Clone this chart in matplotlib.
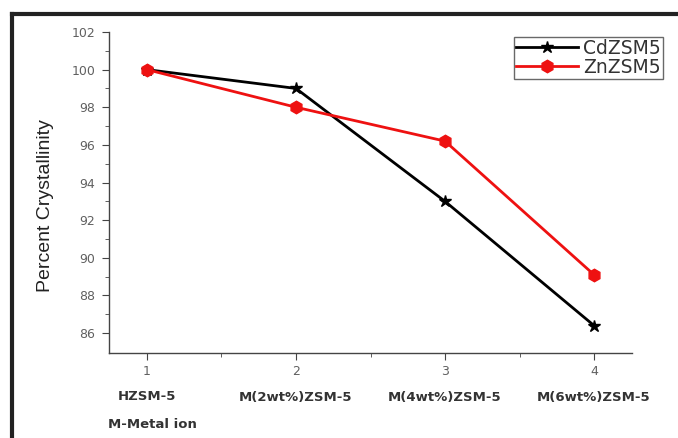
import matplotlib
matplotlib.use('Agg')
import matplotlib.pyplot as plt
from matplotlib.lines import Line2D

x = [1, 2, 3, 4]
cd_zsm5 = [100.0, 99.0, 93.0, 86.4]
zn_zsm5 = [100.0, 98.0, 96.2, 89.1]
categories = ['HZSM-5', 'M(2wt%)ZSM-5', 'M(4wt%)ZSM-5', 'M(6wt%)ZSM-5']

plt.rcParams['font.family'] = ['DejaVu Sans']

W, H = 678, 438
fig = plt.figure(figsize=(W / 100, H / 100), dpi=100)
ax = fig.add_axes([109 / W, 1 - 353 / H, (632 - 109) / W, (353 - 32) / H])

ax.plot(x, cd_zsm5, color='black', lw=2, marker='*', ms=9, label='CdZSM5')
ax.plot(x, zn_zsm5, color='#ee1111', lw=2, marker='h', ms=9, label='ZnZSM5')

ax.set_xlim(0.745, 4.255)
ax.set_ylim(84.94, 102)
ax.spines['top'].set_visible(False)
ax.spines['right'].set_visible(False)
for s in ('left', 'bottom'):
    ax.spines[s].set_color('#444444')
    ax.spines[s].set_linewidth(1)

ax.set_yticks(range(86, 103, 2))
ax.set_yticks(range(87, 102, 2), minor=True)
ax.set_xticks(x)
ax.set_xticks([1.5, 2.5, 3.5], minor=True)
ax.tick_params(which='major', direction='out', length=5, color='#444444',
               labelsize=9, labelcolor='#606060')
ax.tick_params(which='minor', direction='out', length=3, color='#444444')
ax.tick_params(axis='y', pad=5)

ax.set_ylabel('Percent Crystallinity', fontsize=14, family='Liberation Sans',
              color='#222222')
ax.yaxis.set_label_coords(-0.105, 0.46)

for xi, lab in zip(x, categories):
    ax.annotate(lab, xy=(xi, 1 - 397 / H), xycoords=('data', 'figure fraction'),
                ha='center', va='center', fontsize=9.5, fontweight='bold',
                color='#333333')
fig.text(108 / W, 1 - 424 / H, 'M-Metal ion', ha='left', va='center',
         fontsize=9.5, fontweight='bold', color='#333333')

leg = ax.legend(loc='upper right', bbox_to_anchor=(663 / W, 1 - 37 / H),
                bbox_transform=fig.transFigure, fontsize=13.5, frameon=True,
                fancybox=False, borderpad=0.1, labelspacing=0.0,
                handlelength=3.3, handletextpad=0.3, borderaxespad=0)
leg.get_frame().set_edgecolor('#444444')
leg.get_frame().set_linewidth(1)
for t in leg.get_texts():
    t.set_color('#333333')

# outer frame (top and left)
fig.add_artist(Line2D([12 / W, 1], [1 - 14 / H, 1 - 14 / H], color='#222222', lw=3))
fig.add_artist(Line2D([12 / W, 12 / W], [0, 1 - 14 / H], color='#222222', lw=3))

fig.savefig('out.png', dpi=100)
